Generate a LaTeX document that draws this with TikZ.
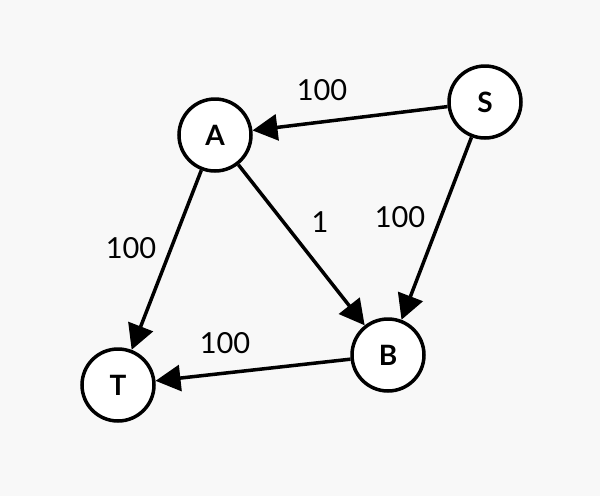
\documentclass[tikz,border=0pt]{standalone}
\usepackage{fontspec}
\setmainfont{Lato}
\usetikzlibrary{arrows.meta}
\definecolor{bg}{HTML}{F8F8F8}
\begin{document}
\begin{tikzpicture}[x=1pt,y=-1pt,
  vertex/.style={circle,draw=black,fill=white,line width=3.5pt,minimum size=72pt,inner sep=0pt,font=\fontsize{28}{32}\selectfont\bfseries},
  edge/.style={line width=3.5pt,-{Triangle[length=25pt,width=26pt]}},
  wlabel/.style={font=\fontsize{29}{32}\selectfont}]
\fill[bg] (0,0) rectangle (600,496);
\useasboundingbox (0,0) rectangle (600,496);
\node[vertex] (A) at (215,135) {A};
\node[vertex] (S) at (485,102) {S};
\node[vertex] (B) at (388,355) {B};
\node[vertex] (T) at (118,385) {T};
\draw[edge] (S) -- (A);
\draw[edge] (S) -- (B);
\draw[edge] (A) -- (B);
\draw[edge] (A) -- (T);
\draw[edge] (B) -- (T);
\node[wlabel] (lsa) at (322,90) {100};
\node[wlabel] (lab) at (320,222) {1};
\node[wlabel] (lsb) at (400,217) {100};
\node[wlabel] (lat) at (131,248) {100};
\node[wlabel] (lbt) at (225,343) {100};
\end{tikzpicture}
\end{document}
